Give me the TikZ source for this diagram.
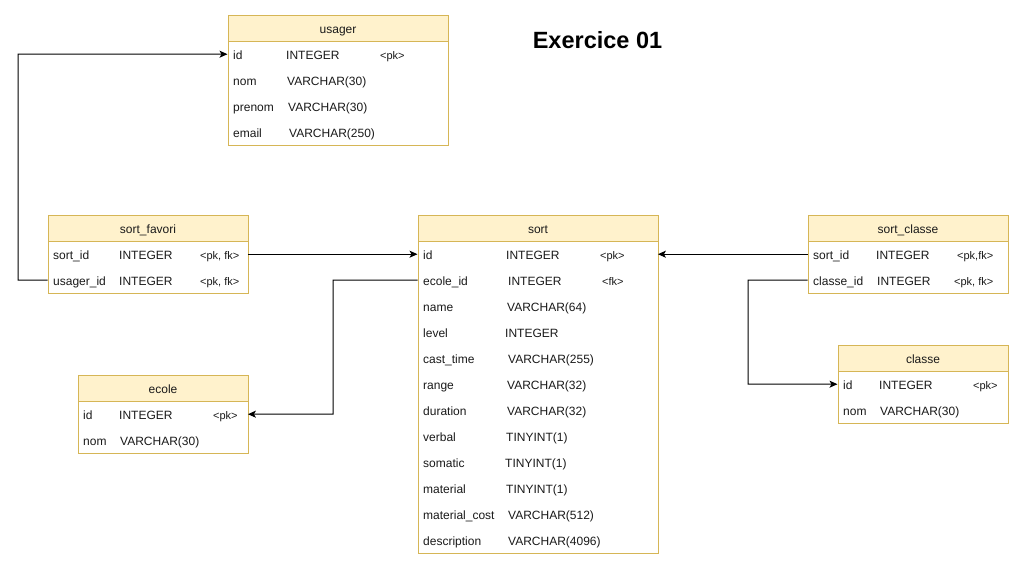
\documentclass[tikz,border=0pt]{standalone}
\usepackage{fontspec}
\setmainfont{Liberation Sans}
\usetikzlibrary{arrows.meta}
\definecolor{hdrfill}{HTML}{FFF2CC}
\definecolor{hdrline}{HTML}{D6B656}
\definecolor{txtc}{HTML}{1A1A1A}
\tikzset{
  hdr/.style={draw=hdrline, fill=hdrfill, line width=1pt, anchor=north west, minimum height=26pt, inner sep=0pt, text height=10pt, text depth=0pt, text=txtc, font=\fontsize{12}{14}\selectfont},
  bodybox/.style={draw=hdrline, fill=white, line width=1pt, anchor=north west, inner sep=0pt},
  rowbox/.style={anchor=north west, minimum height=26pt, inner sep=0pt},
  txt/.style={anchor=base west, inner sep=0pt, text=txtc, font=\fontsize{12}{14}\selectfont},
  key/.style={anchor=base west, inner sep=0pt, text=txtc, font=\fontsize{11}{13}\selectfont},
  conn/.style={draw=black, line width=1pt, -{Stealth[length=8pt,width=7pt,inset=2pt]}},
  ttl/.style={inner sep=0pt, font=\fontsize{23.5}{27}\selectfont\bfseries}
}
\begin{document}
\begin{tikzpicture}[x=1pt,y=-1pt]
\useasboundingbox[fill=white] (0,0) rectangle (1018,566);

% title
\node[ttl] (title) at (597.5,40) {Exercice 01};

% ---------- usager ----------
\node[bodybox, minimum width=220pt, minimum height=104pt] (usager-body) at (227.5,41) {};
\node[hdr, minimum width=220pt] (usager) at (227.5,15) {usager};
\foreach \i in {1,...,4} \node[rowbox, minimum width=220pt] (usager-r\i) at (227.5,{41+26*(\i-1)}) {};
\node[txt] (usager-r1-a) at (233,59) {id};
\node[txt] (usager-r1-b) at (286,59) {INTEGER};
\node[key] (usager-r1-c) at (380,59) {<pk>};
\node[txt] (usager-r2-a) at (233,85) {nom};
\node[txt] (usager-r2-b) at (287,85) {VARCHAR(30)};
\node[txt] (usager-r3-a) at (233,111) {prenom};
\node[txt] (usager-r3-b) at (288,111) {VARCHAR(30)};
\node[txt] (usager-r4-a) at (233,137) {email};
\node[txt] (usager-r4-b) at (289,137) {VARCHAR(250)};

% ---------- sort ----------
\node[bodybox, minimum width=240pt, minimum height=312pt] (sort-body) at (417.5,241) {};
\node[hdr, minimum width=240pt] (sort) at (417.5,215) {sort};
\foreach \i in {1,...,12} \node[rowbox, minimum width=240pt] (sort-r\i) at (417.5,{241+26*(\i-1)}) {};
\node[txt] (sort-r1-a) at (423,259) {id};
\node[txt] (sort-r1-b) at (506,259) {INTEGER};
\node[key] (sort-r1-c) at (600,259) {<pk>};
\node[txt] (sort-r2-a) at (423,285) {ecole\_id};
\node[txt] (sort-r2-b) at (508,285) {INTEGER};
\node[key] (sort-r2-c) at (602,285) {<fk>};
\node[txt] (sort-r3-a) at (423,311) {name};
\node[txt] (sort-r3-b) at (507,311) {VARCHAR(64)};
\node[txt] (sort-r4-a) at (423,337) {level};
\node[txt] (sort-r4-b) at (505,337) {INTEGER};
\node[txt] (sort-r5-a) at (423,363) {cast\_time};
\node[txt] (sort-r5-b) at (508,363) {VARCHAR(255)};
\node[txt] (sort-r6-a) at (423,389) {range};
\node[txt] (sort-r6-b) at (507,389) {VARCHAR(32)};
\node[txt] (sort-r7-a) at (423,415) {duration};
\node[txt] (sort-r7-b) at (507,415) {VARCHAR(32)};
\node[txt] (sort-r8-a) at (423,441) {verbal};
\node[txt] (sort-r8-b) at (506,441) {TINYINT(1)};
\node[txt] (sort-r9-a) at (423,467) {somatic};
\node[txt] (sort-r9-b) at (505,467) {TINYINT(1)};
\node[txt] (sort-r10-a) at (423,493) {material};
\node[txt] (sort-r10-b) at (506,493) {TINYINT(1)};
\node[txt] (sort-r11-a) at (423,519) {material\_cost};
\node[txt] (sort-r11-b) at (508,519) {VARCHAR(512)};
\node[txt] (sort-r12-a) at (423,545) {description};
\node[txt] (sort-r12-b) at (508,545) {VARCHAR(4096)};

% ---------- sort_favori ----------
\node[bodybox, minimum width=200pt, minimum height=52pt] (sortfavori-body) at (47.5,241) {};
\node[hdr, minimum width=200pt] (sortfavori) at (47.5,215) {sort\_favori};
\foreach \i in {1,2} \node[rowbox, minimum width=200pt] (sortfavori-r\i) at (47.5,{241+26*(\i-1)}) {};
\node[txt] (sortfavori-r1-a) at (53,259) {sort\_id};
\node[txt] (sortfavori-r1-b) at (119,259) {INTEGER};
\node[key] (sortfavori-r1-c) at (200,259) {<pk, fk>};
\node[txt] (sortfavori-r2-a) at (53,285) {usager\_id};
\node[txt] (sortfavori-r2-b) at (119,285) {INTEGER};
\node[key] (sortfavori-r2-c) at (200,285) {<pk, fk>};

% ---------- ecole ----------
\node[bodybox, minimum width=170pt, minimum height=52pt] (ecole-body) at (77.5,401) {};
\node[hdr, minimum width=170pt] (ecole) at (77.5,375) {ecole};
\foreach \i in {1,2} \node[rowbox, minimum width=170pt] (ecole-r\i) at (77.5,{401+26*(\i-1)}) {};
\node[txt] (ecole-r1-a) at (83,419) {id};
\node[txt] (ecole-r1-b) at (119,419) {INTEGER};
\node[key] (ecole-r1-c) at (213,419) {<pk>};
\node[txt] (ecole-r2-a) at (83,445) {nom};
\node[txt] (ecole-r2-b) at (120,445) {VARCHAR(30)};

% ---------- sort_classe ----------
\node[bodybox, minimum width=200pt, minimum height=52pt] (sortclasse-body) at (807.5,241) {};
\node[hdr, minimum width=200pt] (sortclasse) at (807.5,215) {sort\_classe};
\foreach \i in {1,2} \node[rowbox, minimum width=200pt] (sortclasse-r\i) at (807.5,{241+26*(\i-1)}) {};
\node[txt] (sortclasse-r1-a) at (813,259) {sort\_id};
\node[txt] (sortclasse-r1-b) at (876,259) {INTEGER};
\node[key] (sortclasse-r1-c) at (957,259) {<pk,fk>};
\node[txt] (sortclasse-r2-a) at (813,285) {classe\_id};
\node[txt] (sortclasse-r2-b) at (877,285) {INTEGER};
\node[key] (sortclasse-r2-c) at (954,285) {<pk, fk>};

% ---------- classe ----------
\node[bodybox, minimum width=170pt, minimum height=52pt] (classe-body) at (837.5,371) {};
\node[hdr, minimum width=170pt] (classe) at (837.5,345) {classe};
\foreach \i in {1,2} \node[rowbox, minimum width=170pt] (classe-r\i) at (837.5,{371+26*(\i-1)}) {};
\node[txt] (classe-r1-a) at (843,389) {id};
\node[txt] (classe-r1-b) at (879,389) {INTEGER};
\node[key] (classe-r1-c) at (973,389) {<pk>};
\node[txt] (classe-r2-a) at (843,415) {nom};
\node[txt] (classe-r2-b) at (880,415) {VARCHAR(30)};

% ---------- connectors ----------
\coordinate (bendA) at (18,54);
\coordinate (bendB) at (333,414);
\coordinate (bendC) at (748,384);
\draw[conn] (sortfavori-r2.west) -| (bendA) -- (usager-r1.west);
\draw[conn] (sortfavori-r1.east) -- (sort-r1.west);
\draw[conn] (sort-r2.west) -| (bendB) -- (ecole-r1.east);
\draw[conn] (sortclasse-r1.west) -- (sort-r1.east);
\draw[conn] (sortclasse-r2.west) -| (bendC) -- (classe-r1.west);
\end{tikzpicture}
\end{document}
